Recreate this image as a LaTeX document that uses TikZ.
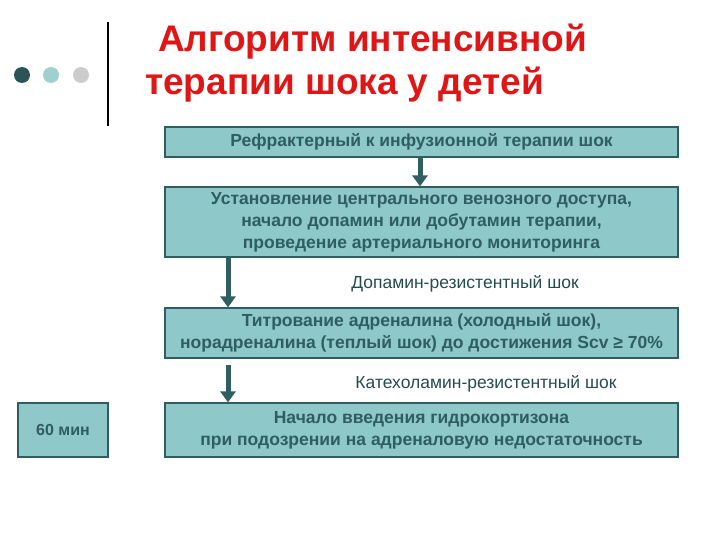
\documentclass[tikz,border=0pt]{standalone}
\usepackage{fontspec}
\setmainfont{Liberation Sans}
\usetikzlibrary{arrows.meta}
\definecolor{tealb}{HTML}{8EC8C8}
\definecolor{tealdk}{HTML}{2E5E60}
\definecolor{titler}{HTML}{E01515}
\tikzset{
 box/.style={draw=tealdk,line width=1.2pt,fill=tealb,text=tealdk,font=\bfseries\fontsize{17.5}{22}\selectfont,align=center,inner sep=0pt},
 lbl/.style={text=tealdk!80!black,font=\fontsize{17.5}{21}\selectfont},
 arr/.style={draw=tealdk,line width=5pt,-{Triangle[width=15pt,length=11pt]}}
}
\begin{document}
\begin{tikzpicture}[x=1pt,y=-1pt]
\useasboundingbox (0,0) rectangle (720,540);
\fill[tealdk!90!black] (22,75) circle (8);
\fill[tealb!85!white] (51,75) circle (8);
\fill[black!20] (81,75) circle (8);
\draw[line width=2.2pt] (108,22) -- (108,126);
\node[text=titler,font=\bfseries\fontsize{37}{42}\selectfont,anchor=west,inner sep=0pt] (t1) at (158,42) {Алгоритм интенсивной};
\node[text=titler,font=\bfseries\fontsize{37}{42}\selectfont,anchor=west,inner sep=0pt] (t2) at (145,85) {терапии шока у детей};
\node[box,minimum width=513pt,minimum height=30pt] (b1) at (421.5,142) {Рефрактерный к инфузионной терапии шок};
\node[box,minimum width=513pt,minimum height=70pt] (b2) at (421.5,222) {Установление центрального венозного доступа,\\начало допамин или добутамин терапии,\\проведение артериального мониторинга};
\node[lbl] (l1) at (465,284) {Допамин-резистентный шок};
\node[box,minimum width=513pt,minimum height=50pt] (b3) at (421.5,333) {Титрование адреналина (холодный шок),\\норадреналина (теплый шок) до достижения Scv ≥ 70\%};
\node[lbl] (l2) at (486,384) {Катехоламин-резистентный шок};
\node[box,minimum width=513pt,minimum height=54pt] (b4) at (421.5,430) {Начало введения гидрокортизона\\при подозрении на адреналовую недостаточность};
\node[box,minimum width=90pt,minimum height=54pt,font=\bfseries\fontsize{16}{20}\selectfont] (m) at (63,430) {60 мин};
\draw[arr] (b1.south -| 420,0) -- (b2.north -| 420,0);
\draw[arr] (b2.south -| 228,0) -- (b3.north -| 228,0);
\draw[arr] (b3.south -| 228,0) ++(0,6) coordinate (c1) -- (b4.north -| 228,0);
\end{tikzpicture}
\end{document}
